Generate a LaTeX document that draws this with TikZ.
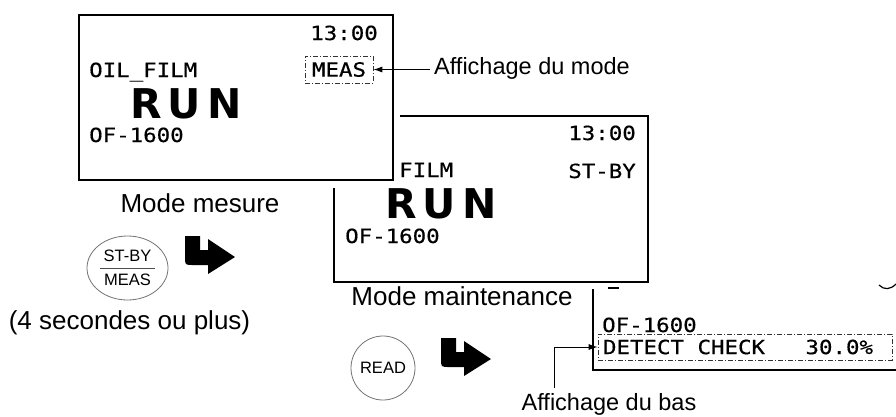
\documentclass[tikz,border=0pt]{standalone}
\usepackage{fontspec}
\setmainfont{Liberation Sans}
\newfontfamily\lcd[FakeStretch=1.15,FakeBold=0.5]{DejaVu Sans Mono}
\newfontfamily\runfont[LetterSpace=15]{DejaVu Sans}
\usetikzlibrary{arrows.meta,shapes.geometric}
\begin{document}
\begin{tikzpicture}[x=1pt,y=-1pt,
  lcdbox/.style={draw=black, line width=2.2pt, fill=white},
  lcdtxt/.style={inner sep=0pt, font=\lcd\fontsize{19.5}{19.5}\selectfont},
  runtxt/.style={inner sep=0pt, font=\runfont\bfseries\fontsize{41}{41}\selectfont},
  lbl/.style={inner sep=0pt, font=\fontsize{26}{26}\selectfont},
  albl/.style={inner sep=0pt, font=\fontsize{23.5}{23.5}\selectfont},
  dashbox/.style={draw=black!80, line width=0.7pt, dash pattern=on 5pt off 2pt on 1pt off 2pt},
  callout/.style={draw, line width=0.9pt, -{Latex[length=9pt,width=6pt]}},
  btn/.style={draw=black!55, line width=0.8pt},
  btntxt/.style={inner sep=0pt, font=\fontsize{16.5}{16.5}\selectfont},
  bentarrow/.pic={\fill (0,0) -- (15,0) -- (15,14) -- (23,14) -- (23,3) -- (50,21) -- (23,38) -- (23,29) -- (8,29) .. controls (0,29) .. (0,21) -- cycle;}
]
\useasboundingbox (0,0) rectangle (896,416);

% ---- box 3 (bottom display, partly hidden) ----
\draw[line width=2.2pt] (905,370) -- (593,370) -- (593,289);
\draw[line width=1.2pt] (608,288) -- (619,288);
\draw[line width=1.2pt] (879,285) .. controls (884,290) and (890,290) .. (896,284);
\node[lcdtxt, anchor=base west] (f3) at (602,332) {OF-1600};
\node[lcdtxt, dashbox, minimum width=294pt, minimum height=26pt, inner sep=0pt] (detect) at (745,347)
  {\makebox[284pt][l]{DETECT CHECK\ \ \ 30.0\%}};

% ---- box 2 (maintenance) ----
\draw[lcdbox] (334,116) rectangle (648,282);
\node[lcdtxt, anchor=base east] (t2) at (636,140) {13:00};
\node[lcdtxt, anchor=base east] (s2) at (636,178) {ST-BY};
\node[lcdtxt, anchor=base west] (o2) at (345,177) {OIL\_FILM};
\node[runtxt, anchor=base west] (r2) at (385,218) {RUN};
\node[lcdtxt, anchor=base west] (f2) at (345,243) {OF-1600};

% ---- box 1 (measure) ----
\fill[white] (71,7) rectangle (400,188);
\draw[lcdbox] (79,15) rectangle (393,180);
\node[lcdtxt, anchor=base east] (t1) at (378,40) {13:00};
\node[lcdtxt, anchor=base west] (o1) at (89,77) {OIL\_FILM};
\node[lcdtxt, dashbox, minimum width=68pt, minimum height=27pt, inner sep=0pt] (meas) at (339,69.5) {MEAS};
\node[runtxt, anchor=base west] (r1) at (130,118) {RUN};
\node[lcdtxt, anchor=base west] (f1) at (89,142) {OF-1600};

% ---- labels ----
\node[lbl, anchor=base] (mm) at (200,212) {Mode mesure};
\node[lbl, anchor=base] (mmaint) at (462,305) {Mode maintenance};
\node[lbl, anchor=base] (sec) at (129.5,329) {(4 secondes ou plus)};
\node[albl, anchor=base west, inner xsep=4pt] (amode) at (430,74) {Affichage du mode};
\node[albl, anchor=base] (abas) at (609,410) {Affichage du bas};

% ---- callouts ----
\draw[callout] (amode.west |- meas.east) -- (meas.east);
\coordinate (bend) at (554,388);
\draw[callout] (bend) |- (detect.west);

% ---- buttons ----
\node[btn, ellipse, minimum width=81pt, minimum height=64pt, inner sep=0pt] (stby) at (127.5,268) {};
\node[btntxt, anchor=base] (stbyt) at (127.5,261.5) {ST-BY};
\node[btntxt, anchor=base] (meast) at (127.5,285.5) {MEAS};
\draw[black!70, line width=0.8pt] (100,268) -- (155,268);
\node[btn, circle, minimum size=64pt, btntxt] (read) at (383,368) {READ};

% ---- bent arrows ----
\pic at (185,236) {bentarrow};
\pic at (441,338) {bentarrow};
\end{tikzpicture}
\end{document}
